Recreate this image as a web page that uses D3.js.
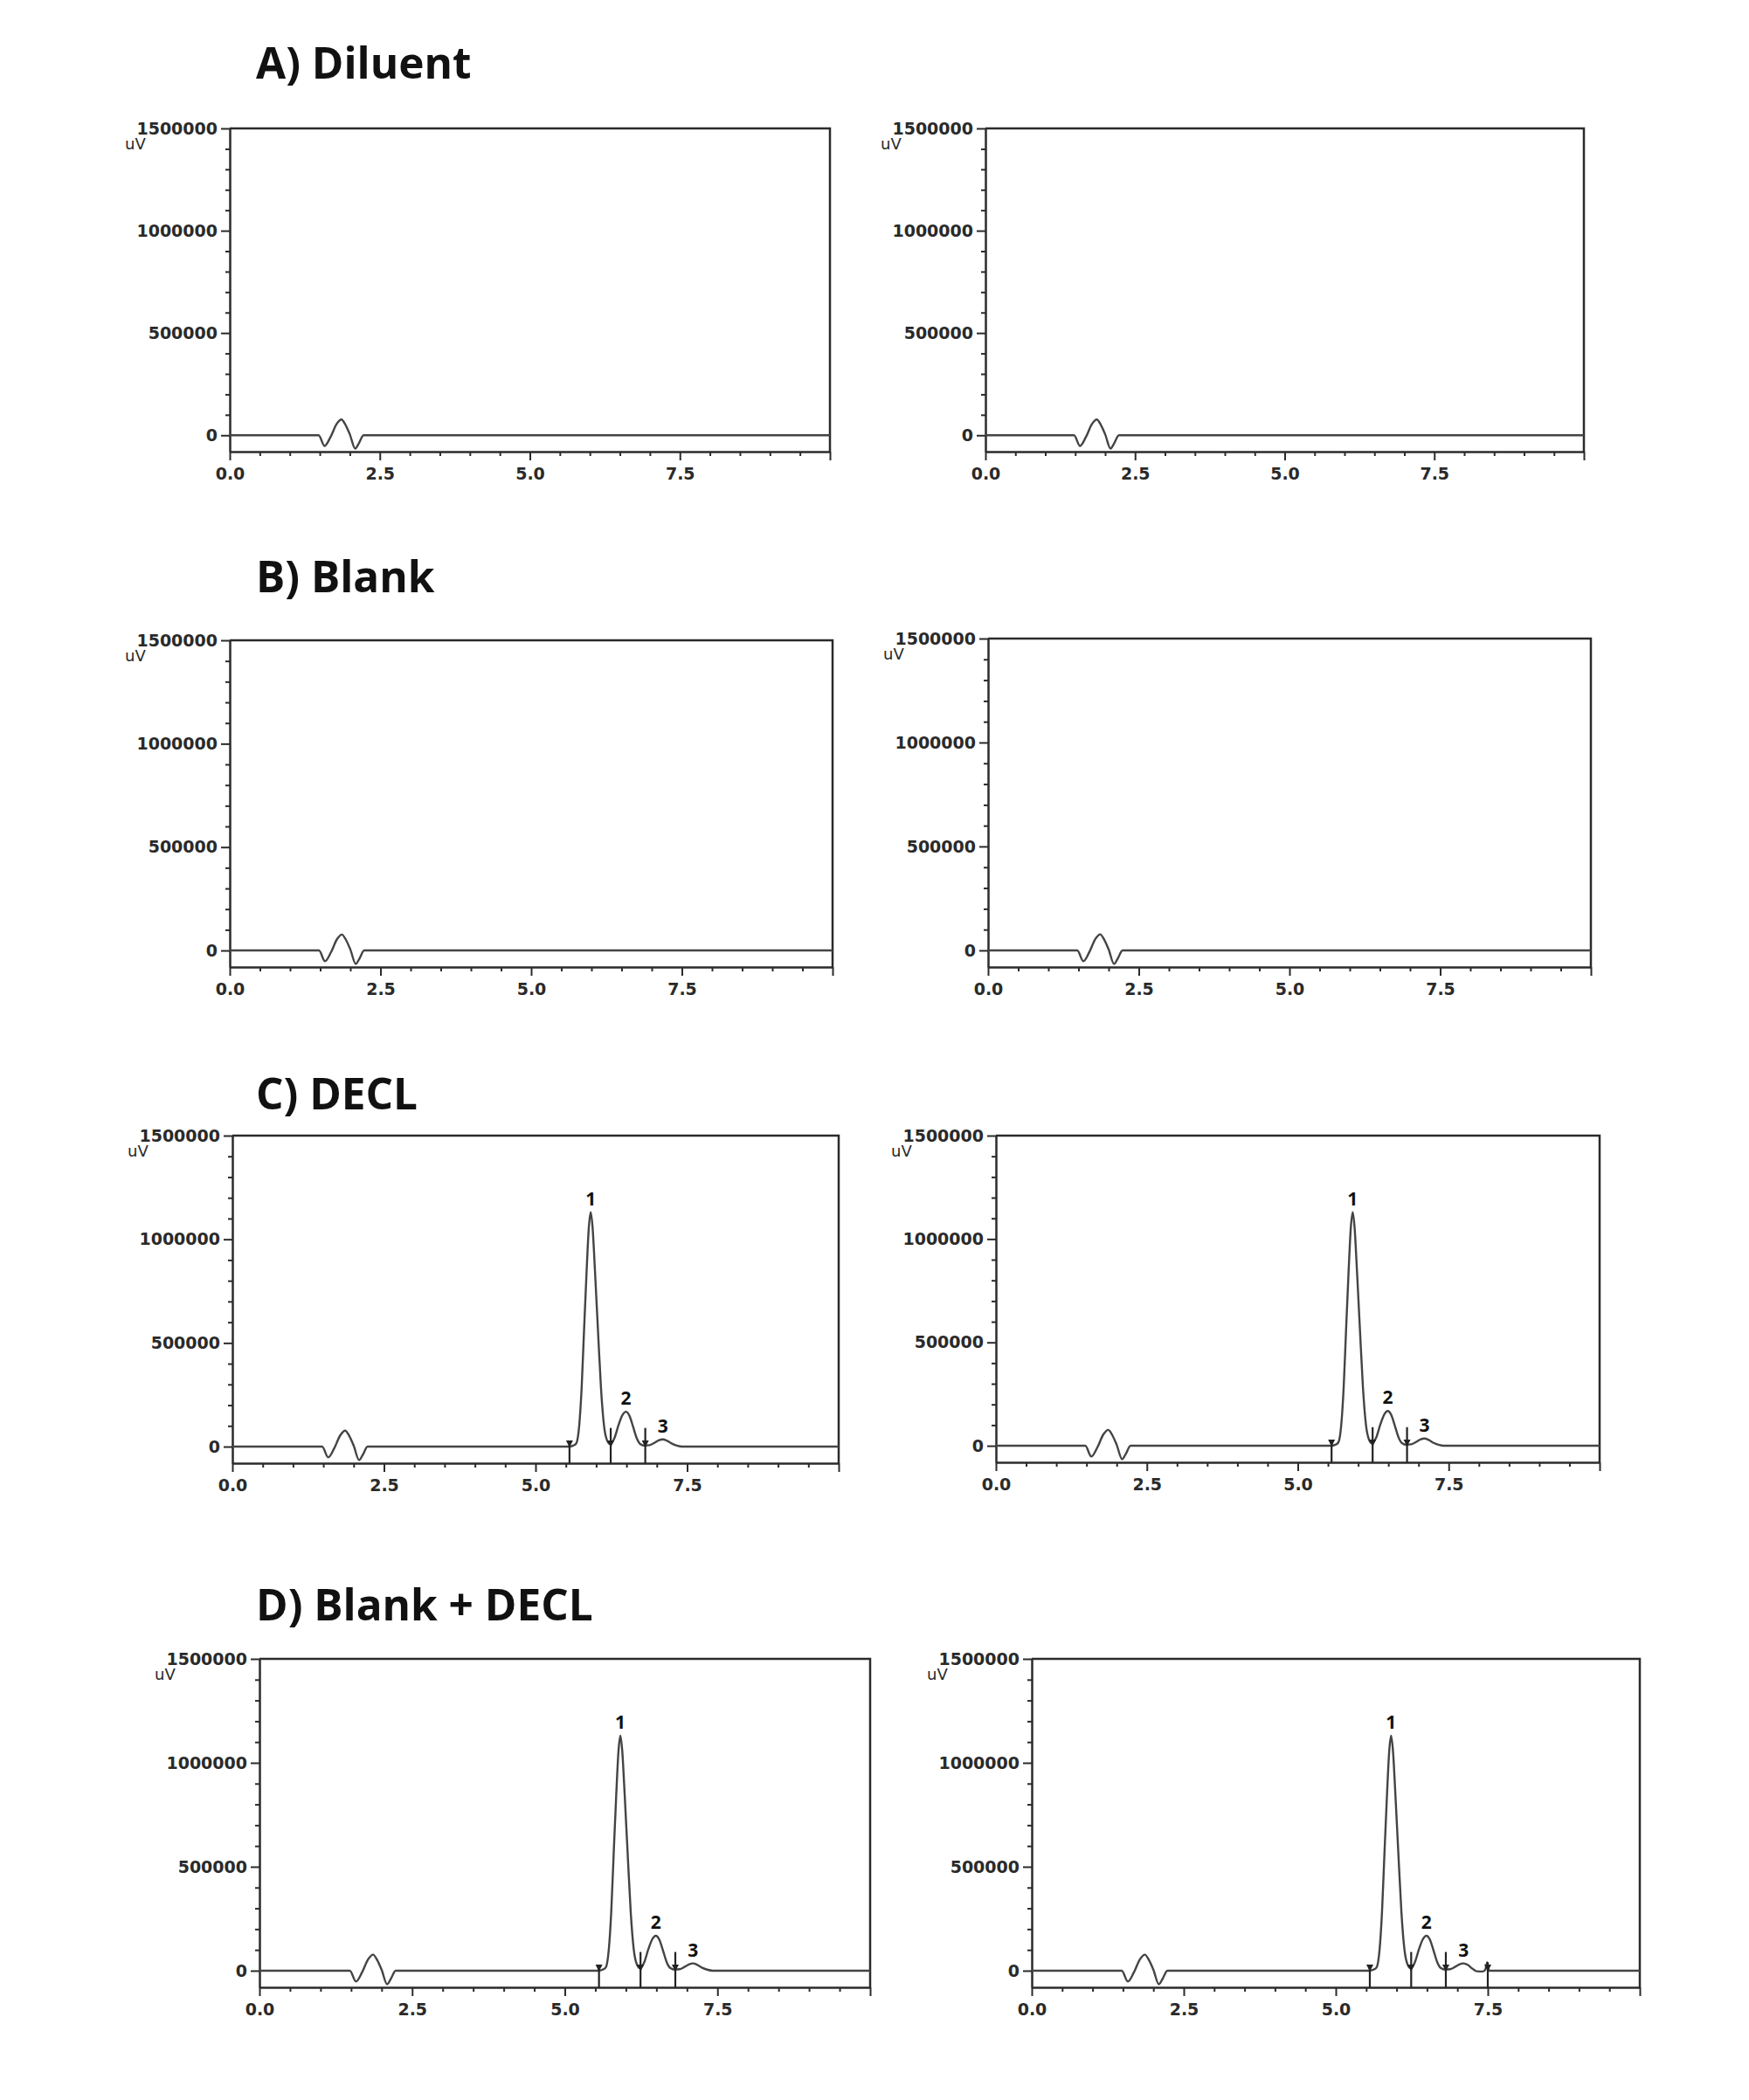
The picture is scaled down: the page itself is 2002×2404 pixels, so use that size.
<!DOCTYPE html>
<html>
<head>
<meta charset="utf-8">
<script src="https://cdn.jsdelivr.net/npm/d3@7"></script>
<style>
  body { margin: 0; background: #fff; }
  svg { display: block; }
</style>
</head>
<body>
<svg id="chart" width="2002" height="2404"></svg>
<script>
// ---- data (time in min, signal in uV) ----
const titles = ["A) Diluent", "B) Blank", "C) DECL", "D) Blank + DECL"];

// solvent front disturbance, seen in every run
const frontTime   = [0, 1.48, 1.58, 1.68, 1.78, 1.86, 1.93, 2.0, 2.09, 2.15, 2.23];
const frontSignal = [0, 0, -52000, -8000, 55000, 77000, 50000, 5000, -65000, -40000, 0];

// DECL peaks 1-3
const declTime   = [3.5, 5.55, 5.62, 5.67, 5.72, 5.76, 5.80, 5.84, 5.88, 5.91, 5.94, 5.98, 6.03, 6.08, 6.13, 6.18, 6.23,
                    6.30, 6.37, 6.43, 6.49, 6.55, 6.61, 6.67, 6.73, 6.80,
                    6.88, 6.96, 7.03, 7.10, 7.17, 7.25, 7.33, 7.42];
const declSignal = [0, 0, 5000, 15000, 100000, 280000, 560000, 830000, 1060000, 1130000, 1060000, 850000, 560000, 280000, 100000, 30000, 12000,
                    40000, 105000, 150000, 168000, 148000, 95000, 40000, 12000, 5000,
                    7000, 18000, 30000, 35000, 28000, 14000, 5000, 0];

// last run of D (right) ends peak 3 with a small upturn
const tailTime   = [7.25, 7.32, 7.42, 7.46, 7.49, 7.52];
const tailSignal = [9000, -3000, -4000, 6000, 40000, 0];

const endTime = 10, endSignal = 0;

// integration marks and peak labels
const markTime = [5.56, 6.24, 6.81];
const markTop  = [15000, 90000, 90000];
const peakLabels = ["1", "2", "3"];
const peakTime   = [5.91, 6.49, 7.10];
const peakSignal = [1130000, 168000, 35000];

const yMajor = [0, 500000, 1000000, 1500000];
const xMajor = [0, 2.5, 5, 7.5, 10];

// ---- traces ----
const zip = (t, v) => t.map((d, i) => ({ t: d, v: v[i] }));
const blankTrace = zip(frontTime, frontSignal).concat([{ t: endTime, v: endSignal }]);
const declPart = zip(declTime, declSignal);
const declTrace = zip(frontTime, frontSignal).concat(declPart, [{ t: endTime, v: endSignal }]);
const declTailTrace = zip(frontTime, frontSignal)
  .concat(declPart.filter(d => d.t < 7.2), zip(tailTime, tailSignal), [{ t: endTime, v: endSignal }]);

// ---- layout ----
const titleY = [90, 678, 1270, 1855];
const panels = [
  { row: 0, left: 263,  right: 950,  top: 147,  bottom: 517,  trace: blankTrace, peaks: false },
  { row: 0, left: 1128, right: 1813, top: 147,  bottom: 517,  trace: blankTrace, peaks: false },
  { row: 1, left: 263,  right: 953,  top: 733,  bottom: 1107, trace: blankTrace, peaks: false },
  { row: 1, left: 1131, right: 1821, top: 731,  bottom: 1107, trace: blankTrace, peaks: false },
  { row: 2, left: 266,  right: 960,  top: 1300, bottom: 1675, trace: declTrace,  peaks: true },
  { row: 2, left: 1140, right: 1831, top: 1300, bottom: 1674, trace: declTrace,  peaks: true },
  { row: 3, left: 297,  right: 996,  top: 1899, bottom: 2275, trace: declTrace,  peaks: true },
  { row: 3, left: 1181, right: 1877, top: 1899, bottom: 2275, trace: declTailTrace, peaks: true, extraMark: [7.5, 40000] }
];

const svg = d3.select("#chart");
svg.append("rect").attr("width", 2002).attr("height", 2404).attr("fill", "#fff");

const axisColor = "#2b2b2b";
const tickFont = "'DejaVu Sans', Verdana, sans-serif";

// row titles
svg.selectAll("text.title")
  .data(titles)
  .enter()
  .append("text")
  .attr("class", "title")
  .attr("x", 293)
  .attr("y", (d, i) => titleY[i])
  .attr("font-family", "'Open Sans', 'Noto Sans', sans-serif")
  .attr("font-weight", 700)
  .attr("font-size", 49.5)
  .attr("fill", "#111")
  .text(d => d);

panels.forEach(p => {
  const x = d3.scaleLinear().domain([0, 10]).range([p.left, p.right]);
  const y = d3.scaleLinear().domain([-80000, 1500000]).range([p.bottom, p.top]);
  const g = svg.append("g");

  // frame (top + right)
  g.append("path")
    .attr("d", `M${p.left},${p.top}H${p.right}V${p.bottom}`)
    .attr("fill", "none")
    .attr("stroke", axisColor)
    .attr("stroke-width", 2.5);

  // y axis minor ticks
  const yMinor = d3.range(100000, 1500000, 100000).filter(v => v % 500000 !== 0);
  g.append("g")
    .attr("transform", `translate(${p.left},0)`)
    .call(d3.axisLeft(y).tickValues(yMinor).tickSize(5).tickFormat(""))
    .call(a => a.select(".domain").remove());

  // y axis major
  const yAxis = g.append("g")
    .attr("transform", `translate(${p.left},0)`)
    .call(d3.axisLeft(y).tickValues(yMajor).tickSize(10).tickPadding(4).tickSizeOuter(0).tickFormat(d3.format("d")));

  // x axis minor ticks
  const xMinor = d3.range(0.5, 10, 0.5).filter(v => v % 2.5 !== 0);
  g.append("g")
    .attr("transform", `translate(0,${p.bottom})`)
    .call(d3.axisBottom(x).tickValues(xMinor).tickSize(5).tickFormat(""))
    .call(a => a.select(".domain").remove());

  // x axis major
  const xAxis = g.append("g")
    .attr("transform", `translate(0,${p.bottom})`)
    .call(d3.axisBottom(x).tickValues(xMajor).tickSize(10).tickPadding(9).tickSizeOuter(0)
      .tickFormat(d => d === 10 ? "" : d3.format(".1f")(d)));

  [yAxis, xAxis].forEach(a => {
    a.select(".domain").attr("stroke", axisColor).attr("stroke-width", 2.5);
    a.selectAll("text")
      .attr("font-family", tickFont)
      .attr("font-size", 19)
      .attr("font-weight", 700)
      .attr("fill", "#2a2a2a");
  });
  g.selectAll(".tick line").attr("stroke", axisColor).attr("stroke-width", 2);

  // unit label, tucked under the top tick label as in the instrument printout
  g.append("text")
    .attr("x", p.left - 120)
    .attr("y", p.top + 24)
    .attr("font-family", tickFont)
    .attr("font-size", 18)
    .attr("fill", "#2a2a2a")
    .text("uV");

  // chromatogram trace
  const line = d3.line().x(d => x(d.t)).y(d => y(d.v)).curve(d3.curveMonotoneX);
  g.append("path")
    .datum(p.trace)
    .attr("d", line)
    .attr("fill", "none")
    .attr("stroke", "#444")
    .attr("stroke-width", 2.4);

  if (p.peaks) {
    const marks = zip(markTime, markTop);
    if (p.extraMark) marks.push({ t: p.extraMark[0], v: p.extraMark[1] });
    g.selectAll("line.mark")
      .data(marks)
      .enter()
      .append("line")
      .attr("class", "mark")
      .attr("x1", d => x(d.t)).attr("x2", d => x(d.t))
      .attr("y1", d => y(d.v)).attr("y2", y(-80000))
      .attr("stroke", "#222")
      .attr("stroke-width", 2.2);
    g.selectAll("path.arrow")
      .data(marks)
      .enter()
      .append("path")
      .attr("class", "arrow")
      .attr("d", d => `M${x(d.t) - 4},${y(0) - 7}L${x(d.t) + 4},${y(0) - 7}L${x(d.t)},${y(0) + 1}Z`)
      .attr("fill", "#222");

    g.selectAll("text.peak")
      .data(peakLabels)
      .enter()
      .append("text")
      .attr("class", "peak")
      .attr("x", (d, i) => x(peakTime[i]))
      .attr("y", (d, i) => y(peakSignal[i]) - 8)
      .attr("text-anchor", "middle")
      .attr("font-family", "'Open Sans', 'Noto Sans', sans-serif")
      .attr("font-weight", 700)
      .attr("font-size", 21)
      .attr("fill", "#111")
      .text(d => d);
  }
});
</script>
</body>
</html>
